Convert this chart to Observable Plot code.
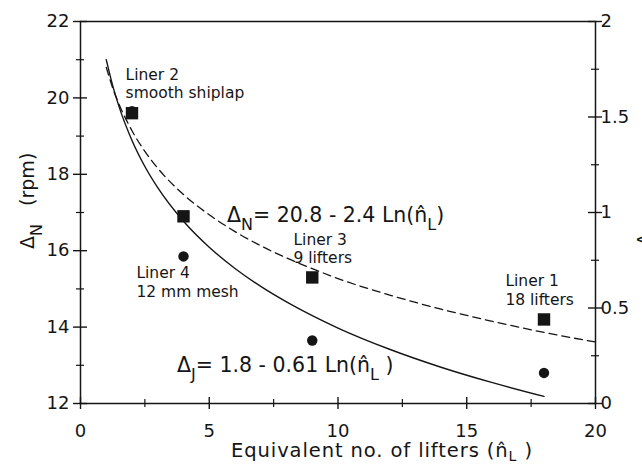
<!DOCTYPE html>
<html><head><meta charset="utf-8">
<script src="https://cdn.jsdelivr.net/npm/d3@7"></script>
<script src="https://cdn.jsdelivr.net/npm/@observablehq/plot@0.6"></script>
<style>
html,body{margin:0;padding:0;background:#fff}
#chart svg{display:block}
</style>
</head><body><div id="chart"></div>
<script>
// ---- data ----
const liners   = ["Liner 2", "Liner 4", "Liner 3", "Liner 1"];
const lifters  = [2, 4, 9, 18];              // equivalent no. of lifters
const deltaN   = [19.6, 16.9, 15.3, 14.2];   // rpm (left axis, squares)
const deltaJ   = [1.53, 0.77, 0.33, 0.16];   // right axis (circles)

// fitted curves (values of the printed equations)
const fitNX = [1, 1.25, 1.5, 2, 2.5, 3, 4, 5, 6, 7, 8, 9, 10, 12, 14, 16, 18, 20];
const fitN  = [20.8, 20.26, 19.83, 19.14, 18.60, 18.16, 17.47, 16.94, 16.50, 16.13, 15.81, 15.53, 15.27, 14.84, 14.47, 14.15, 13.86, 13.61];
const fitJX = [1, 1.25, 1.5, 2, 2.5, 3, 4, 5, 6, 7, 8, 9, 10, 12, 14, 16, 18];
const fitJ  = [1.8, 1.664, 1.553, 1.377, 1.241, 1.130, 0.954, 0.818, 0.707, 0.613, 0.532, 0.460, 0.395, 0.284, 0.190, 0.109, 0.037];

const xTicks = [0, 5, 10, 15, 20];
const xMinor = [2.5, 7.5, 12.5, 17.5];
const yTicks = [12, 14, 16, 18, 20, 22];
const yMinor = [13, 15, 17, 19, 21];
const jTicks = [0, 0.5, 1, 1.5, 2];
const jMinor = [0.25, 0.75, 1.25, 1.75];

const noteText = ["Liner 2\nsmooth shiplap", "Liner 4\n12 mm mesh", "Liner 3\n9 lifters", "Liner 1\n18 lifters"];
const noteX = [1.75, 2.17, 8.27, 16.5];
const noteY = [20.82, 15.62, 16.5, 15.42];

// ---- build tables ----
const jToY = j => 12 + 5 * j;   // right-axis (0..2) onto left-axis (12..22)
const pts = liners.map((l, i) => ({liner: l, n: lifters[i], dn: deltaN[i], dj: deltaJ[i]}));
const curveN = fitNX.map((n, i) => ({n, v: fitN[i]}));
const curveJ = fitJX.map((n, i) => ({n, v: fitJ[i]}));
const notes = noteText.map((t, i) => ({t, x: noteX[i], y: noteY[i]}));

const FONT = "DejaVu Sans";
const INK = "#151515";

const chart = Plot.plot({
  width: 642, height: 464,
  marginLeft: 80, marginRight: 47, marginTop: 21, marginBottom: 61,
  style: {fontFamily: FONT, fontSize: "18px", color: INK, background: "#fff", overflow: "visible"},
  x: {domain: [0, 20]},
  y: {domain: [12, 22]},
  marks: [
    Plot.frame({stroke: INK, strokeWidth: 1.5}),
    // tick labels
    Plot.axisX(xTicks, {tickSize: 0, tickPadding: 21, fontSize: 18, label: null}),
    Plot.axisY(yTicks, {tickSize: 0, tickPadding: 11, fontSize: 18, label: null}),
    Plot.axisY(jTicks.map(jToY), {anchor: "right", tickSize: 0, tickPadding: 5, fontSize: 18, label: null,
      tickFormat: d => String(Math.round((d - 12) / 5 * 100) / 100)}),
    // crossing tick marks
    Plot.ruleY(yTicks, {x1: 0, x2: 0, insetLeft: -7, insetRight: -7, stroke: INK, strokeWidth: 1.4}),
    Plot.ruleY(yMinor, {x1: 0, x2: 0, insetLeft: -4, insetRight: -4, stroke: INK, strokeWidth: 1.2}),
    Plot.ruleY(jTicks.map(jToY), {x1: 20, x2: 20, insetLeft: -7, insetRight: -7, stroke: INK, strokeWidth: 1.4}),
    Plot.ruleY(jMinor.map(jToY), {x1: 20, x2: 20, insetLeft: -4, insetRight: -4, stroke: INK, strokeWidth: 1.2}),
    Plot.ruleX(xTicks, {y1: 12, y2: 12, insetTop: -6, insetBottom: -6, stroke: INK, strokeWidth: 1.4}),
    Plot.ruleX(xMinor, {y1: 12, y2: 12, insetTop: -4, insetBottom: -4, stroke: INK, strokeWidth: 1.2}),
    // fitted curves
    Plot.line(curveN, {x: "n", y: "v", stroke: INK, strokeWidth: 1.3, strokeDasharray: "8,5", curve: "monotone-x"}),
    Plot.line(curveJ, {x: "n", y: d => jToY(d.v), stroke: INK, strokeWidth: 1.4, curve: "monotone-x"}),
    // data points
    Plot.dot(pts, {x: "n", y: d => jToY(d.dj), r: 5.2, fill: INK, stroke: null}),
    Plot.dot(pts, {x: "n", y: "dn", symbol: "square", r: 7, fill: INK, stroke: null}),
    // liner annotations
    Plot.text(notes, {x: "x", y: "y", text: "t", textAnchor: "start", lineAnchor: "top",
      lineHeight: 1.2, fontSize: 15.5, fill: INK})
  ]
});
document.getElementById("chart").appendChild(chart);

// ---- rich texts (subscripts, hats) placed through the plot's scales ----
const sx = chart.scale("x"), sy = chart.scale("y");
const svg = d3.select(chart);
function rich(x, y, parts, opts = {}) {
  const t = svg.append("text")
    .attr("x", x).attr("y", y)
    .attr("font-family", FONT).attr("fill", INK)
    .attr("text-anchor", opts.anchor || "start");
  if (opts.spacing) t.attr("letter-spacing", opts.spacing);
  if (opts.transform) t.attr("transform", opts.transform).attr("x", 0).attr("y", 0);
  parts.forEach(p => {
    const s = t.append("tspan").attr("font-size", p.size).text(p.t);
    if (p.dy) s.attr("dy", p.dy);
  });
  return t;
}
// equation for ΔN
rich(sx.apply(5.71), sy.apply(16.74), [
  {t: "\u0394", size: 20.5}, {t: "N", size: 16, dy: 8},
  {t: "= 20.8 - 2.4 Ln(n\u0302", size: 20.5, dy: -8}, {t: "L", size: 16, dy: 8}, {t: ")", size: 20.5, dy: -8}
]);
// equation for ΔJ
rich(sx.apply(3.77), sy.apply(12.81), [
  {t: "\u0394", size: 20.5}, {t: "J", size: 16, dy: 8},
  {t: "= 1.8 - 0.61 Ln(n\u0302", size: 20.5, dy: -8}, {t: "L", size: 16, dy: 8}, {t: " )", size: 20.5, dy: -8}
]);
// x axis title
rich(382, 457, [
  {t: "Equivalent no. of lifters (n\u0302", size: 19.5}, {t: "L", size: 14, dy: 4}, {t: " )", size: 19.5, dy: -4}
], {anchor: "middle", spacing: 0.9});
// left axis title (rotated)
rich(0, 0, [
  {t: "\u0394", size: 19}, {t: "N", size: 16, dy: 8}, {t: "   (rpm)", size: 19, dy: -8}
], {transform: "translate(34,249) rotate(-90)"});
// right axis title (mostly cut off at the edge, as in the reference)
rich(0, 0, [
  {t: "\u0394", size: 19}, {t: "J", size: 15, dy: 8}
], {transform: "translate(651,246) rotate(-90)"});
</script>
</body></html>
